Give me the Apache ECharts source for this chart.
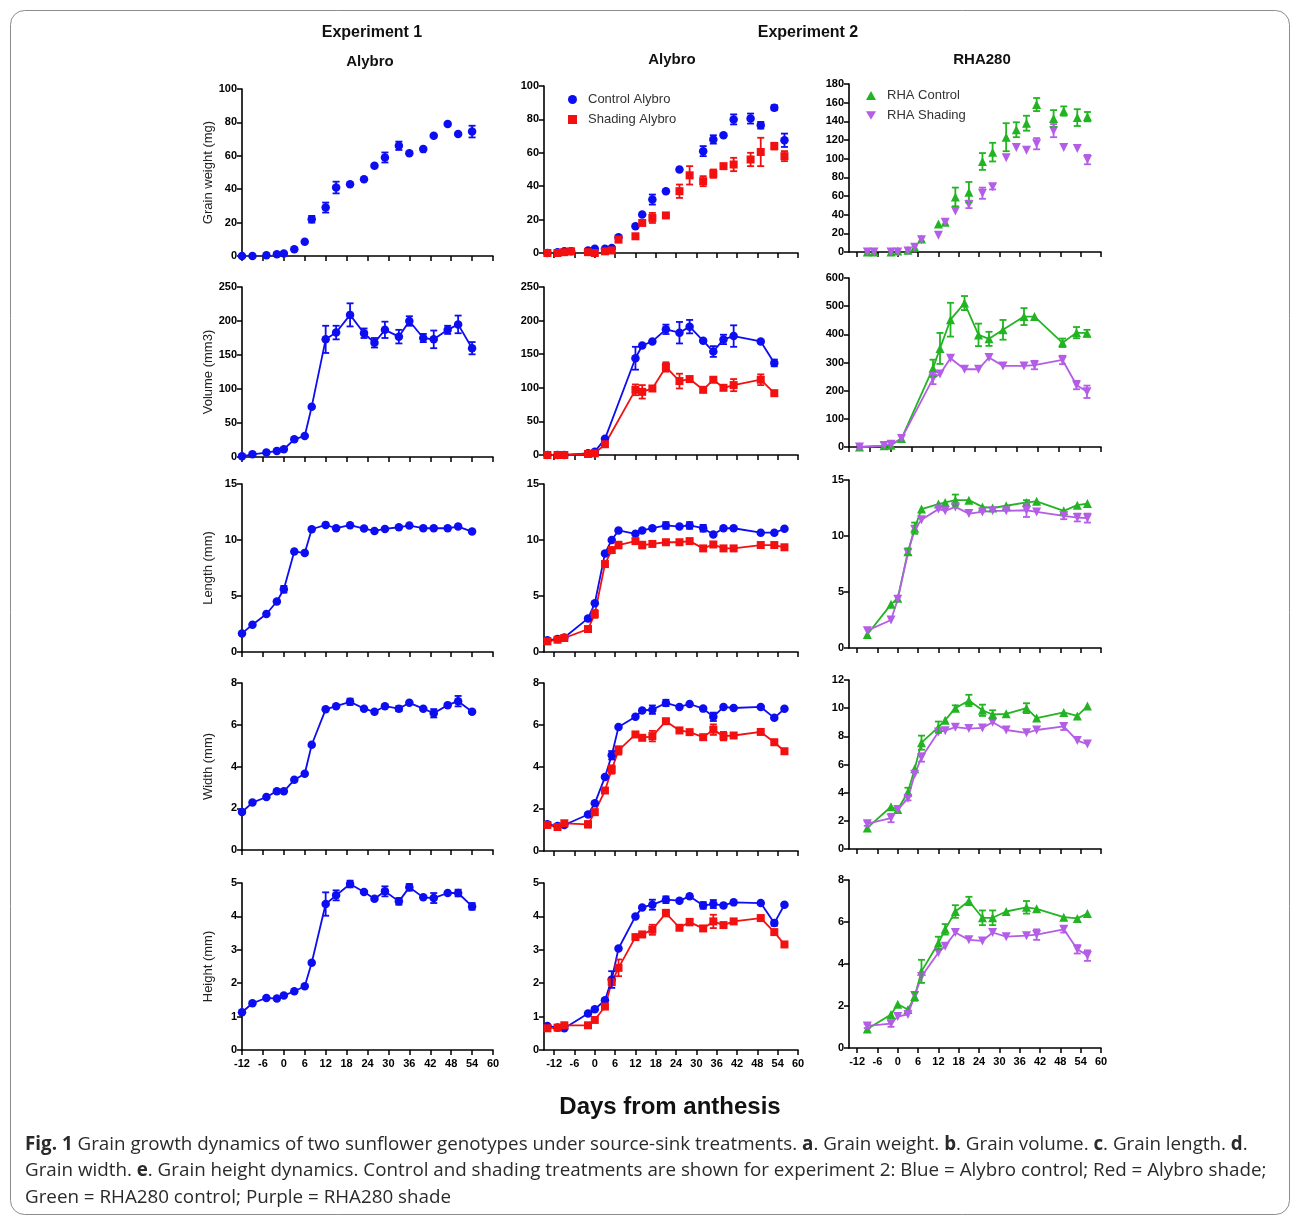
<!DOCTYPE html>
<html>
<head>
<meta charset="utf-8">
<script src="https://cdn.jsdelivr.net/npm/echarts@6/dist/echarts.min.js"></script>
<style>
html,body{margin:0;padding:0;background:#fff;}
#chart{width:1292px;height:1219px;}
</style>
</head>
<body>
<div id="chart"></div>
<script>
// ---------------- DATA ----------------
const X_TICKS = [-12,-6,0,6,12,18,24,30,36,42,48,54,60];

// Experiment 1, Alybro
const DAYS_E1 = [-12,-9,-5,-2,0,3,6,8,12,15,19,23,26,29,33,36,40,43,47,50,54];
const E1_WEIGHT = [0,0,0.5,1,1.5,4,8.5,22,29,41,43,46,54,59,66,61.5,64,72,79,73,74.5];
const E1_WEIGHT_ERR = [0,0,0,0,0,0,0,2,3,3.5,0,0,0,3,2.5,0,0,0,0,0,3.5];
const E1_VOLUME = [1,4,6.5,9,11.4,26,31,74,173,183,209,182,168,187,177,200,175,173,187,195,160];
const E1_VOLUME_ERR = [0,0,0,0,0,0,0,0,20,10,17,7,7,12,10,7,6,13,6,13,9];
const E1_LENGTH = [1.66,2.44,3.39,4.51,5.6,8.97,8.85,10.96,11.35,11.05,11.32,11.02,10.81,10.99,11.14,11.29,11.05,11.05,11.05,11.2,10.75];
const E1_LENGTH_ERR = [0,0,0,0,0.3,0,0,0,0,0,0,0,0,0,0,0,0,0,0,0,0];
const E1_WIDTH = [1.82,2.27,2.54,2.82,2.81,3.36,3.65,5.04,6.74,6.89,7.1,6.77,6.62,6.89,6.77,7.05,6.77,6.55,6.94,7.13,6.62];
const E1_WIDTH_ERR = [0,0,0,0,0,0,0,0,0,0,0.15,0,0,0,0.12,0,0,0.2,0,0.25,0];
const E1_HEIGHT = [1.13,1.4,1.56,1.54,1.63,1.76,1.91,2.61,4.37,4.63,4.97,4.73,4.53,4.75,4.45,4.87,4.57,4.55,4.7,4.7,4.3];
const E1_HEIGHT_ERR = [0,0,0,0,0,0,0,0,0.35,0.15,0.1,0,0,0.15,0.1,0.1,0,0.15,0,0.1,0.1];

// Experiment 2, Alybro
const DAYS_A_W_CTRL = [-14,-11,-9,-7,-2,0,3,5,7,12,14,17,21,25,32,35,38,41,46,49,53,56];
const A_W_CTRL = [0,0.5,1,1,1.5,2.5,2.5,3,9.5,16,23,32,37,50,61,68,70.5,80,80.5,76.5,87,67.5];
const A_W_CTRL_ERR = [0,0,0,0,0,0,0,0,0,0,0,3,0,0,3,2.5,0,3,3,2,1.5,4];
const DAYS_A_W_SHADE = [-14,-11,-9,-7,-2,0,3,5,7,12,14,17,21,25,28,32,35,38,41,46,49,53,56];
const A_W_SHADE = [0,0,0.5,1,0.5,0,1,1.5,8,10,18,21,22.5,37,46.5,43,47.5,52,53,56,60.5,64,58];
const A_W_SHADE_ERR = [0,0,0,0,0,0,0,0,0,0,0,3,0,4,5.5,3,2.5,0,4,4,8.5,2,3];

const DAYS_A_VOL = [-14,-11,-9,-2,0,3,12,14,17,21,25,28,32,35,38,41,49,53];
const A_V_CTRL = [0,0,0,2.5,5,24,144,163,169,187,182,191,170,154,172,177,169,137];
const A_V_CTRL_ERR = [0,0,0,0,0,0,17,0,0,7,16,10,0,8,7,16,0,5];
const A_V_SHADE = [0,0,0,1.5,2.5,16,97,94,99,131,110,113,97,112,100,104,112,92];
const A_V_SHADE_ERR = [0,0,0,0,0,0,8,10,0,7,11,0,0,0,0,9,8,0];

const DAYS_A = [-14,-11,-9,-2,0,3,5,7,12,14,17,21,25,28,32,35,38,41,49,53,56];
const A_L_CTRL = [1.05,1.15,1.3,3.0,4.35,8.8,10.0,10.85,10.55,10.85,11.05,11.3,11.2,11.3,11.05,10.5,11.05,11.05,10.65,10.65,11.0];
const A_L_CTRL_ERR = [0,0,0,0,0,0,0,0,0,0,0,0.3,0,0.3,0.3,0,0,0,0,0,0];
const A_L_SHADE = [0.95,1.1,1.25,2.05,3.4,7.85,9.1,9.55,9.9,9.55,9.65,9.8,9.8,9.9,9.25,9.6,9.25,9.25,9.55,9.55,9.35];
const A_L_SHADE_ERR = [0,0,0,0,0.35,0,0,0.3,0,0.3,0,0,0,0,0,0,0,0,0,0,0];
const A_WI_CTRL = [1.27,1.19,1.24,1.74,2.27,3.52,4.56,5.9,6.39,6.69,6.73,7.05,6.86,7.0,6.78,6.39,6.86,6.81,6.86,6.34,6.77];
const A_WI_CTRL_ERR = [0,0,0,0,0,0,0.2,0,0,0,0.2,0.15,0,0,0,0.2,0,0,0,0,0];
const A_WI_SHADE = [1.24,1.14,1.32,1.27,1.85,2.88,3.88,4.79,5.55,5.39,5.47,6.18,5.74,5.66,5.42,5.78,5.47,5.5,5.67,5.18,4.75];
const A_WI_SHADE_ERR = [0,0,0,0.15,0,0,0.2,0.2,0,0,0.25,0,0,0,0,0.25,0.2,0,0,0,0];
const A_H_CTRL = [0.72,0.67,0.65,1.09,1.22,1.49,2.11,3.04,4.0,4.27,4.35,4.5,4.47,4.6,4.33,4.37,4.33,4.42,4.4,3.8,4.35];
const A_H_CTRL_ERR = [0,0,0,0,0,0,0.25,0,0,0,0.15,0.1,0,0,0.1,0.12,0,0,0,0.08,0];
const A_H_SHADE = [0.65,0.67,0.74,0.74,0.9,1.3,2.03,2.46,3.38,3.46,3.6,4.1,3.66,3.83,3.64,3.85,3.74,3.85,3.95,3.53,3.16];
const A_H_SHADE_ERR = [0,0,0,0,0,0,0,0.25,0,0,0.15,0.1,0,0.1,0,0.2,0,0,0,0,0];

// Experiment 2, RHA280
const DAYS_R_W = [-9,-7,-2,0,3,5,7,12,14,17,21,25,28,32,35,38,41,46,49,53,56];
const R_W_CTRL = [0,0,0,1,2,5,14,30,32,59,64,97,107,123,131,138,158,143,151,144,145];
const R_W_CTRL_ERR = [0,0,0,0,0,0,0,0,0,10,11,9,10,15,8,8,7,9,5,9,5];
const R_W_SHADE = [0,0,0,0,1,5,13,18,32,44,51,63,70,101,112,109,116,130,112,111,99];
const R_W_SHADE_ERR = [0,0,0,0,0,0,0,0,0,0,4,6,3,0,0,0,6,7,0,0,5];

const DAYS_R_VOL = [-9,-2,0,3,12,14,17,21,25,28,32,38,41,49,53,56];
const R_V_CTRL = [0,4,6,30,280,350,452,511,398,384,416,463,463,370,406,404];
const R_V_CTRL_ERR = [0,0,0,0,30,55,60,25,40,25,35,30,0,15,20,12];
const R_V_SHADE = [0,5,10,30,243,259,315,276,276,318,288,288,291,309,220,196];
const R_V_SHADE_ERR = [8,0,0,0,20,0,0,0,0,0,0,0,15,15,15,22];

const DAYS_R = [-9,-2,0,3,5,7,12,14,17,21,25,28,32,38,41,49,53,56];
const R_L_CTRL = [1.2,3.9,4.45,8.6,10.7,12.4,12.85,13.0,13.2,13.2,12.6,12.5,12.7,13.0,13.1,12.25,12.75,12.9];
const R_L_CTRL_ERR = [0,0,0,0.3,0.5,0,0,0,0.5,0,0,0,0,0.2,0,0,0,0];
const R_L_SHADE = [1.55,2.5,4.35,8.5,10.6,11.45,12.4,12.25,12.6,12.0,12.15,12.25,12.25,12.3,12.15,11.8,11.65,11.6];
const R_L_SHADE_ERR = [0,0,0,0,0,0,0,0,0,0,0,0,0,0.6,0,0.3,0.35,0.4];
const R_WI_CTRL = [1.5,3.0,2.8,4.05,5.7,7.55,8.65,9.15,10.0,10.55,9.85,9.55,9.6,10.0,9.3,9.7,9.45,10.15];
const R_WI_CTRL_ERR = [0,0,0,0.3,0,0.5,0.4,0,0.2,0.4,0.4,0.3,0,0.35,0,0,0,0];
const R_WI_SHADE = [1.8,2.2,2.8,3.6,5.3,6.5,8.3,8.4,8.65,8.55,8.6,9.0,8.45,8.25,8.45,8.7,7.7,7.45];
const R_WI_SHADE_ERR = [0.15,0.3,0,0.15,0,0.3,0,0,0,0,0,0,0,0,0,0.25,0,0];
const R_H_CTRL = [0.9,1.6,2.08,1.83,2.45,3.65,5.0,5.65,6.5,7.0,6.2,6.2,6.5,6.7,6.63,6.23,6.17,6.4];
const R_H_CTRL_ERR = [0,0,0,0,0.2,0.55,0.3,0.25,0.3,0.2,0.35,0.35,0,0.3,0,0,0,0];
const R_H_SHADE = [1.05,1.16,1.5,1.6,2.5,3.4,4.55,4.85,5.5,5.15,5.1,5.5,5.3,5.35,5.4,5.65,4.7,4.4];
const R_H_SHADE_ERR = [0.1,0.15,0,0,0,0,0,0,0,0,0,0,0,0,0.25,0.15,0.2,0.25];

const Y_NAMES = ['Grain weight (mg)','Volume (mm3)','Length (mm)','Width (mm)','Height (mm)'];
const LEGEND_A = ['Control Alybro','Shading Alybro'];
const LEGEND_R = ['RHA Control','RHA Shading'];

// ---------------- STYLES / LAYOUT ----------------
const FONT = '"Liberation Sans", Arial, sans-serif';
const DOWN_TRI = 'path://M0,0L10,0L5,8.66Z';
const KINDS = {
  e1:    {color:'#0d0df2', symbol:'circle',   size:8.5},
  ctrlA: {color:'#0d0df2', symbol:'circle',   size:8.5},
  shadeA:{color:'#f21010', symbol:'rect',     size:8},
  ctrlR: {color:'#22b422', symbol:'triangle', size:9},
  shadeR:{color:'#b45de6', symbol:DOWN_TRI,   size:9}
};
const COLS = [{l:242,w:251},{l:544,w:254},{l:849,w:252}];
const ROWS = [
  [[89,256],[86,253],[84,252]],
  [[287,457],[287,455],[278,447]],
  [[484,652],[484,652],[480,648]],
  [[683,850],[683,851],[680,849]],
  [[883,1050],[883,1050],[880,1048]]
];

function S(name, kind, days, vals, err){ return {name, kind, days, vals, err}; }

const PANELS = [
  {r:0,c:0,yMax:100,step:20,xMin:-12,series:[S('Alybro Exp1','e1',DAYS_E1,E1_WEIGHT,E1_WEIGHT_ERR)]},
  {r:0,c:1,yMax:100,step:20,xMin:-15,series:[S(LEGEND_A[0],'ctrlA',DAYS_A_W_CTRL,A_W_CTRL,A_W_CTRL_ERR),S(LEGEND_A[1],'shadeA',DAYS_A_W_SHADE,A_W_SHADE,A_W_SHADE_ERR)]},
  {r:0,c:2,yMax:180,step:20,xMin:-14.4,series:[S(LEGEND_R[0],'ctrlR',DAYS_R_W,R_W_CTRL,R_W_CTRL_ERR),S(LEGEND_R[1],'shadeR',DAYS_R_W,R_W_SHADE,R_W_SHADE_ERR)]},

  {r:1,c:0,yMax:250,step:50,xMin:-12,series:[S('Alybro Exp1','e1',DAYS_E1,E1_VOLUME,E1_VOLUME_ERR)]},
  {r:1,c:1,yMax:250,step:50,xMin:-15,series:[S(LEGEND_A[0],'ctrlA',DAYS_A_VOL,A_V_CTRL,A_V_CTRL_ERR),S(LEGEND_A[1],'shadeA',DAYS_A_VOL,A_V_SHADE,A_V_SHADE_ERR)]},
  {r:1,c:2,yMax:600,step:100,xMin:-12,series:[S(LEGEND_R[0],'ctrlR',DAYS_R_VOL,R_V_CTRL,R_V_CTRL_ERR),S(LEGEND_R[1],'shadeR',DAYS_R_VOL,R_V_SHADE,R_V_SHADE_ERR)]},

  {r:2,c:0,yMax:15,step:5,xMin:-12,series:[S('Alybro Exp1','e1',DAYS_E1,E1_LENGTH,E1_LENGTH_ERR)]},
  {r:2,c:1,yMax:15,step:5,xMin:-15,series:[S(LEGEND_A[0],'ctrlA',DAYS_A,A_L_CTRL,A_L_CTRL_ERR),S(LEGEND_A[1],'shadeA',DAYS_A,A_L_SHADE,A_L_SHADE_ERR)]},
  {r:2,c:2,yMax:15,step:5,xMin:-14.4,series:[S(LEGEND_R[0],'ctrlR',DAYS_R,R_L_CTRL,R_L_CTRL_ERR),S(LEGEND_R[1],'shadeR',DAYS_R,R_L_SHADE,R_L_SHADE_ERR)]},

  {r:3,c:0,yMax:8,step:2,xMin:-12,series:[S('Alybro Exp1','e1',DAYS_E1,E1_WIDTH,E1_WIDTH_ERR)]},
  {r:3,c:1,yMax:8,step:2,xMin:-15,series:[S(LEGEND_A[0],'ctrlA',DAYS_A,A_WI_CTRL,A_WI_CTRL_ERR),S(LEGEND_A[1],'shadeA',DAYS_A,A_WI_SHADE,A_WI_SHADE_ERR)]},
  {r:3,c:2,yMax:12,step:2,xMin:-14.4,series:[S(LEGEND_R[0],'ctrlR',DAYS_R,R_WI_CTRL,R_WI_CTRL_ERR),S(LEGEND_R[1],'shadeR',DAYS_R,R_WI_SHADE,R_WI_SHADE_ERR)]},

  {r:4,c:0,yMax:5,step:1,xMin:-12,series:[S('Alybro Exp1','e1',DAYS_E1,E1_HEIGHT,E1_HEIGHT_ERR)]},
  {r:4,c:1,yMax:5,step:1,xMin:-15,series:[S(LEGEND_A[0],'ctrlA',DAYS_A,A_H_CTRL,A_H_CTRL_ERR),S(LEGEND_A[1],'shadeA',DAYS_A,A_H_SHADE,A_H_SHADE_ERR)]},
  {r:4,c:2,yMax:8,step:2,xMin:-14.4,series:[S(LEGEND_R[0],'ctrlR',DAYS_R,R_H_CTRL,R_H_CTRL_ERR),S(LEGEND_R[1],'shadeR',DAYS_R,R_H_SHADE,R_H_SHADE_ERR)]}
];

// ---------------- BUILD OPTION ----------------
const grid = [], xAxis = [], yAxis = [], series = [];
const axisLine = {show:true, onZero:false, lineStyle:{color:'#000', width:1.6}};
const axisTickStyle = {color:'#000', width:1.5};

PANELS.forEach((p, k) => {
  const col = COLS[p.c], rr = ROWS[p.r][p.c];
  grid.push({left:col.l, width:col.w, top:rr[0], height:rr[1]-rr[0], containLabel:false});
  xAxis.push({
    type:'value', gridIndex:k, min:p.xMin, max:60,
    axisLine, splitLine:{show:false},
    axisTick:{show:true, customValues:X_TICKS, length:5, lineStyle:axisTickStyle},
    axisLabel:{show:p.r===4, customValues:X_TICKS, fontFamily:FONT, fontWeight:'bold', fontSize:11, color:'#000', margin:8}
  });
  yAxis.push({
    type:'value', gridIndex:k, min:0, max:p.yMax, interval:p.step,
    axisLine, splitLine:{show:false},
    axisTick:{show:true, length:5, lineStyle:axisTickStyle},
    axisLabel:{fontFamily:FONT, fontWeight:'bold', fontSize:11, color:'#000', margin:5},
    name: p.c===0 ? Y_NAMES[p.r] : '',
    nameLocation:'middle', nameGap:27,
    nameTextStyle:{fontFamily:FONT, fontSize:13, color:'#222'}
  });
  p.series.forEach(s => {
    const st = KINDS[s.kind];
    const pts = s.days.map((d, i) => [d, s.vals[i]]);
    series.push({
      name:s.name, type: p.r===0 ? 'scatter' : 'line',
      xAxisIndex:k, yAxisIndex:k, data:pts,
      symbol:st.symbol, symbolSize:st.size, showSymbol:true,
      itemStyle:{color:st.color, opacity:1},
      lineStyle:{color:st.color, width:1.8},
      emphasis:{disabled:true}, animation:false, z:3
    });
    const errPts = s.days.map((d, i) => [d, s.vals[i], s.err[i]]).filter(e => e[2] > 0);
    series.push({
      type:'custom', name:s.name + ' err', xAxisIndex:k, yAxisIndex:k, data:errPts,
      encode:{x:0, y:1}, z:4, animation:false, silent:true,
      renderItem:(params, api) => {
        const x = api.value(0), y = api.value(1), e = api.value(2);
        const t = api.coord([x, y + e]), b = api.coord([x, y - e]);
        const cap = 3.5, stl = {stroke:st.color, lineWidth:1.8};
        return {type:'group', children:[
          {type:'line', shape:{x1:t[0], y1:t[1], x2:b[0], y2:b[1]}, style:stl},
          {type:'line', shape:{x1:t[0]-cap, y1:t[1], x2:t[0]+cap, y2:t[1]}, style:stl},
          {type:'line', shape:{x1:b[0]-cap, y1:b[1], x2:b[0]+cap, y2:b[1]}, style:stl}
        ]};
      }
    });
  });
});

const legendText = {fontFamily:FONT, fontSize:13, color:'#333', padding:[0,0,0,6]};
const legend = [
  {orient:'vertical', left:563, top:88, itemGap:7, itemWidth:9, itemHeight:9, selectedMode:false,
   textStyle:legendText,
   data:[{name:LEGEND_A[0], icon:'circle'},{name:LEGEND_A[1], icon:'rect'}]},
  {orient:'vertical', left:861, top:84, itemGap:7, itemWidth:10, itemHeight:9, selectedMode:false,
   textStyle:legendText,
   data:[{name:LEGEND_R[0], icon:'triangle'},{name:LEGEND_R[1], icon:DOWN_TRI}]}
];

function label(text, x, y, size, weight){
  return {type:'text', x, y, silent:true,
    style:{text, fill:'#111', font:`${weight} ${size}px ${FONT}`, align:'center', verticalAlign:'middle'}};
}

const CAPTION = '{b|Fig. 1} Grain growth dynamics of two sunflower genotypes under source-sink treatments. {b|a}. Grain weight. {b|b}. Grain volume. {b|c}. Grain length. {b|d}.\n' +
  'Grain width. {b|e}. Grain height dynamics. Control and shading treatments are shown for experiment 2: Blue = Alybro control; Red = Alybro shade;\n' +
  'Green = RHA280 control; Purple = RHA280 shade';
const CAP_FONT = '"Open Sans", "Noto Sans", sans-serif';
const CAP_SIZE = 18.8;

const graphic = [
  {type:'rect', shape:{x:10.5, y:10.5, width:1279, height:1204, r:14}, style:{fill:'none', stroke:'#8c8c8c', lineWidth:1}, silent:true, z:-1},
  label('Experiment 1', 372, 33, 16, 'bold'),
  label('Experiment 2', 808, 33, 16, 'bold'),
  label('Alybro', 370, 62, 15, 'bold'),
  label('Alybro', 672, 60, 15, 'bold'),
  label('RHA280', 982, 60, 15, 'bold'),
  label('Days from anthesis', 670, 1107, 24, 'bold'),
  {type:'text', x:25, y:1131, silent:true,
   style:{text:CAPTION, fill:'#2a2a2a', fontFamily:CAP_FONT, fontSize:CAP_SIZE, lineHeight:26.5,
     rich:{b:{fontFamily:CAP_FONT, fontSize:CAP_SIZE, fontWeight:'bold', fill:'#2a2a2a', lineHeight:26.5}}}}
];

const chart = echarts.init(document.getElementById('chart'), null, {renderer:'canvas'});
chart.setOption({
  backgroundColor:'#fff', animation:false,
  grid, xAxis, yAxis, series, legend, graphic
});
</script>
</body>
</html>
